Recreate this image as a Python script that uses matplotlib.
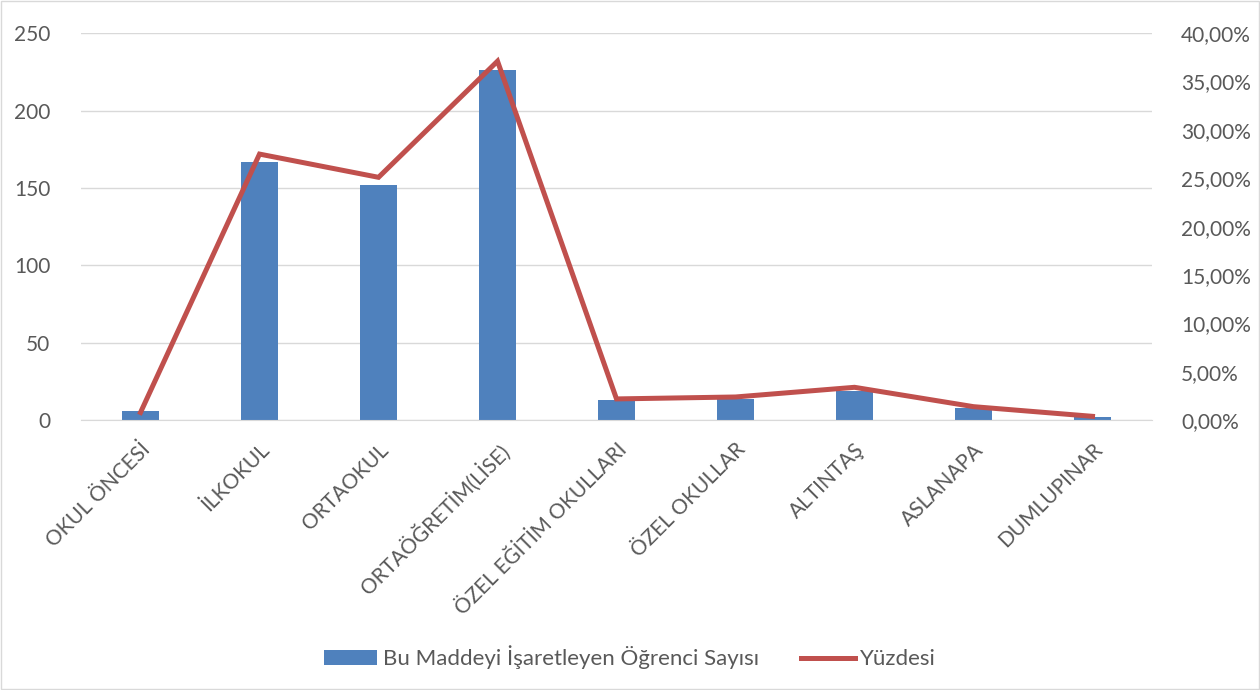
import numpy as np
import matplotlib
matplotlib.use("Agg")
from matplotlib import pyplot as plt
from matplotlib.patches import Rectangle

kategoriler = ['OKUL ÖNCESİ', 'İLKOKUL', 'ORTAOKUL', 'ORTAÖĞRETİM(LİSE)',
               'ÖZEL EĞİTİM OKULLARI', 'ÖZEL OKULLAR', 'ALTINTAŞ', 'ASLANAPA',
               'DUMLUPINAR']
ogrenci_sayisi = [6, 167, 152, 226, 13, 14, 19, 8, 2]
yuzde = [0.8, 27.5, 25.1, 37.1, 2.2, 2.4, 3.4, 1.4, 0.4]

plt.rcParams['font.family'] = ['Lato', 'DejaVu Sans']
gri = '#595959'

fig = plt.figure(figsize=(12.6, 6.9), dpi=100)
fig.patches.append(Rectangle((0.001, 0.001), 0.998, 0.998, transform=fig.transFigure,
                             fill=False, edgecolor='#d9d9d9', linewidth=1))
ax = fig.add_axes([0.0643, 0.391, 0.8500, 0.561])
ax2 = ax.twinx()

x = np.arange(len(kategoriler))
bars = ax.bar(x, ogrenci_sayisi, width=0.31, color='#4F81BD', zorder=2)
line, = ax2.plot(x, yuzde, color='#C0504D', linewidth=3.6, zorder=3,
                 solid_joinstyle='miter')

ax.set_xlim(-0.5, len(kategoriler) - 0.5)
ax.set_ylim(0, 250)
ax.set_yticks(np.arange(0, 251, 50))
ax2.set_ylim(0, 40)
ax2.set_yticks(np.arange(0, 40.1, 5))
ax2.set_yticklabels([('%.2f' % v).replace('.', ',') + '%' for v in np.arange(0, 40.1, 5)])

ax.grid(axis='y', color='#d9d9d9', linewidth=1, zorder=0)
ax.set_axisbelow(True)
for a in (ax, ax2):
    for s in a.spines.values():
        s.set_visible(False)
    a.tick_params(length=0, labelsize=15, labelcolor=gri)
ax.spines['bottom'].set_visible(True)
ax.spines['bottom'].set_color('#d9d9d9')
ax.tick_params(axis='y', pad=22)
ax2.tick_params(axis='y', pad=21)

ax.set_xticks(x)
ax.set_xticklabels(kategoriler, rotation=45, ha='right', rotation_mode='anchor')
ax.tick_params(axis='x', pad=14)

fig.legend([bars, line], ['Bu Maddeyi İşaretleyen Öğrenci Sayısı', 'Yüzdesi'],
           loc='center', bbox_to_anchor=(0.5, 0.047), ncol=2, frameon=False,
           fontsize=16, labelcolor=gri, handlelength=2.4, handleheight=0.7,
           columnspacing=1.9, handletextpad=0.25)

fig.savefig('out.png', dpi=100)
